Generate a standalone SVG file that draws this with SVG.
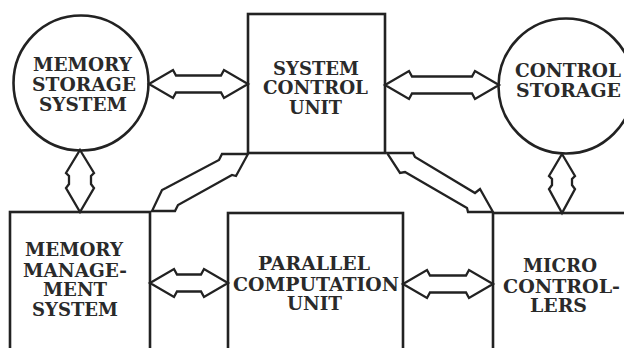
<svg xmlns="http://www.w3.org/2000/svg" width="624" height="348" viewBox="0 0 624 348">
<style>
.shape{fill:#fff;stroke:#222;stroke-width:2.6}
.arrow{fill:#fff;stroke:#222;stroke-width:2.3;stroke-linejoin:miter}
.lbl{font-family:"DejaVu Serif","Liberation Serif",serif;font-weight:bold;font-size:18px;fill:#2a2a2a}
</style>
<rect width="624" height="348" fill="#fff"/>
<g id="memory-storage-system">
<circle class="shape" cx="81" cy="83" r="67.5"/>
<text class="lbl" x="33" y="71" textLength="99" lengthAdjust="spacingAndGlyphs">MEMORY</text>
<text class="lbl" x="32" y="91" textLength="104" lengthAdjust="spacingAndGlyphs">STORAGE</text>
<text class="lbl" x="39" y="111" textLength="88" lengthAdjust="spacingAndGlyphs">SYSTEM</text>
</g>
<g id="system-control-unit">
<rect class="shape" x="248" y="14" width="137" height="139"/>
<text class="lbl" x="273" y="75" textLength="86" lengthAdjust="spacingAndGlyphs">SYSTEM</text>
<text class="lbl" x="263" y="94" textLength="105" lengthAdjust="spacingAndGlyphs">CONTROL</text>
<text class="lbl" x="289" y="114" textLength="53" lengthAdjust="spacingAndGlyphs">UNIT</text>
</g>
<g id="control-storage">
<circle class="shape" cx="566" cy="86" r="67.5"/>
<text class="lbl" x="515" y="77" textLength="106" lengthAdjust="spacingAndGlyphs">CONTROL</text>
<text class="lbl" x="516" y="97" textLength="105" lengthAdjust="spacingAndGlyphs">STORAGE</text>
</g>
<g id="memory-management-system">
<rect class="shape" x="10" y="212" width="140" height="160"/>
<text class="lbl" x="25" y="256" textLength="98" lengthAdjust="spacingAndGlyphs">MEMORY</text>
<text class="lbl" x="23" y="277" textLength="104" lengthAdjust="spacingAndGlyphs">MANAGE-</text>
<text class="lbl" x="43" y="296" textLength="64" lengthAdjust="spacingAndGlyphs">MENT</text>
<text class="lbl" x="32" y="316" textLength="86" lengthAdjust="spacingAndGlyphs">SYSTEM</text>
</g>
<g id="parallel-computation-unit">
<rect class="shape" x="228" y="213" width="175" height="160"/>
<text class="lbl" x="258" y="270" textLength="112" lengthAdjust="spacingAndGlyphs">PARALLEL</text>
<text class="lbl" x="233" y="291" textLength="166" lengthAdjust="spacingAndGlyphs">COMPUTATION</text>
<text class="lbl" x="287" y="310" textLength="55" lengthAdjust="spacingAndGlyphs">UNIT</text>
</g>
<g id="micro-controllers">
<rect class="shape" x="493" y="213" width="160" height="160"/>
<text class="lbl" x="523" y="272" textLength="74" lengthAdjust="spacingAndGlyphs">MICRO</text>
<text class="lbl" x="503" y="293" textLength="117" lengthAdjust="spacingAndGlyphs">CONTROL-</text>
<text class="lbl" x="530" y="312" textLength="57" lengthAdjust="spacingAndGlyphs">LERS</text>
</g>
<g id="connectors">
<polygon class="arrow" points="149,84 173,70 176,75.5 221,75.5 224,70 248,84 224,98 221,92.5 176,92.5 173,98"/>
<polygon class="arrow" points="385,85 409,71 412,76.5 472,76.5 475,71 499,85 475,99 472,93.5 412,93.5 409,99"/>
<polygon class="arrow" points="150,283 174,269 177,274.5 201,274.5 204,269 228,283 204,297 201,291.5 177,291.5 174,297"/>
<polygon class="arrow" points="403,284 427,270 430,275.5 466,275.5 469,270 493,284 469,298 466,292.5 430,292.5 427,298"/>
<polygon class="arrow" points="80,150 94,173 91,176 91,184 94,188 80,212 66,188 69,184 69,176 66,173"/>
<polygon class="arrow" points="562,154 575,176 572,179 572,185 575,189 562,213 549,189 552,185 552,179 549,176"/>
<polygon class="arrow" points="248,154 222,154 219,160 166,188 162,190 152,211 175,211 178,205 232,175 236,176"/>
<polygon class="arrow" points="387,153 413,153 415,157 475,193 480,189 493,212 468,212 467,208 405,172 400,173"/>
</g>
</svg>
